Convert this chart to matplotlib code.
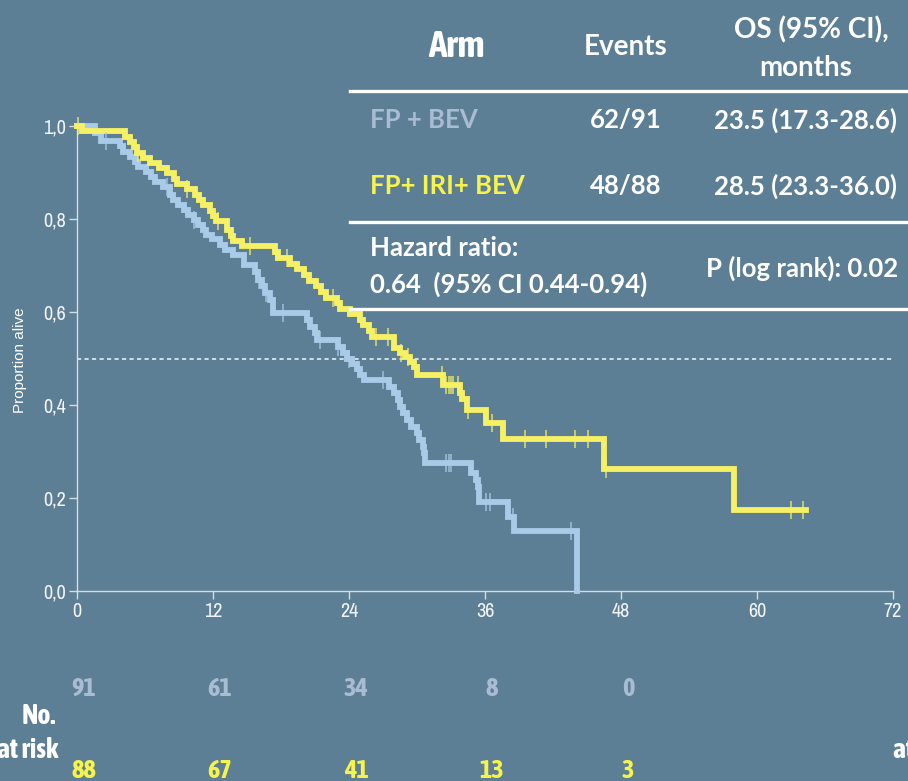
import matplotlib.pyplot as plt
import numpy as np
from matplotlib.lines import Line2D

# survival steps: time (months) of each drop and the level after it
bev_t = [0, 1.6, 2.1, 3.8, 4.1, 4.7, 5.1, 5.4, 6.1, 6.5, 6.9, 7.6, 8.2, 8.5, 8.9,
         9.4, 9.8, 10.3, 10.7, 11.1, 11.4, 11.9, 12.6, 13.1, 13.8, 14.7, 15.7,
         16.0, 16.3, 16.6, 17.0, 17.3, 20.3, 20.6, 21.0, 21.2, 23.0, 23.5, 23.8,
         24.3, 24.7, 25.0, 25.3, 27.5, 28.0, 28.3, 28.5, 28.8, 29.1, 29.5, 30.0,
         30.2, 30.5, 30.6, 30.7, 34.8, 35.2, 35.4, 35.5, 38.0, 38.6, 44.1]
bev_s = [1.0, 0.985, 0.967, 0.956, 0.945, 0.934, 0.923, 0.912, 0.901, 0.890,
         0.879, 0.868, 0.852, 0.841, 0.830, 0.820, 0.809, 0.798, 0.787, 0.776,
         0.765, 0.757, 0.745, 0.734, 0.723, 0.701, 0.687, 0.669, 0.655, 0.640,
         0.626, 0.597, 0.583, 0.568, 0.554, 0.540, 0.525, 0.511, 0.500, 0.489,
         0.478, 0.465, 0.454, 0.439, 0.425, 0.411, 0.396, 0.382, 0.368, 0.353,
         0.339, 0.325, 0.310, 0.296, 0.275, 0.253, 0.239, 0.224, 0.192, 0.160,
         0.128, 0.0]
bev_cens = [2.6, 7.9, 10.3, 16.1, 16.7, 18.2, 21.4, 23.0, 24.0, 27.0, 32.6,
            32.8, 33.0, 36.1, 36.4, 38.5, 43.6]

iri_t = [0, 0.4, 4.2, 4.7, 5.0, 5.3, 5.8, 6.4, 7.2, 7.9, 8.6, 8.8, 9.7, 10.4,
         10.8, 11.1, 11.7, 12.0, 12.3, 13.2, 13.6, 13.8, 14.6, 17.5, 17.7, 18.8,
         19.4, 20.0, 20.5, 21.1, 21.5, 22.0, 22.9, 23.2, 24.1, 25.0, 25.2, 25.8,
         26.0, 28.0, 28.5, 28.9, 29.4, 29.7, 30.0, 32.3, 33.8, 34.0, 34.4, 36.1,
         37.6, 46.5, 58.0, 64.3]
iri_s = [1.0, 0.989, 0.977, 0.966, 0.955, 0.943, 0.932, 0.920, 0.909, 0.898,
         0.886, 0.875, 0.864, 0.852, 0.841, 0.830, 0.818, 0.807, 0.795, 0.776,
         0.764, 0.752, 0.741, 0.728, 0.716, 0.704, 0.692, 0.679, 0.667, 0.655,
         0.643, 0.631, 0.619, 0.607, 0.595, 0.583, 0.571, 0.559, 0.546, 0.522,
         0.511, 0.504, 0.493, 0.482, 0.465, 0.443, 0.425, 0.413, 0.389, 0.361,
         0.326, 0.262, 0.175, 0.175]
iri_cens = [0.1, 5.4, 9.7, 12.4, 15.3, 17.6, 18.5, 22.6, 26.4, 27.4, 28.6,
            29.2, 32.2, 32.6, 32.8, 33.0, 33.2, 33.6, 34.5, 36.6, 39.5, 41.4,
            43.9, 45.1, 46.7, 63.0, 64.1]

risk_times = [0, 12, 24, 36, 48]
bev_risk = ["91", "61", "34", "8", "0"]
iri_risk = ["88", "67", "41", "13", "3"]

BG = "#5d7f95"
BLUE = "#a9cbe8"
YELLOW = "#f6f064"
BLUE_TXT = "#a8bcd2"
YELLOW_TXT = "#f7f34a"
NARROW = ["Archivo Narrow", "DejaVu Sans"]
COND = ["Asap Condensed", "DejaVu Sans"]
BODY = ["Lato", "DejaVu Sans"]

W, H = 908, 781
fig = plt.figure(figsize=(W / 100, H / 100), dpi=100, facecolor=BG)
ax = fig.add_axes([77 / W, 1 - 591 / H, 816 / W, 465 / H], facecolor=BG)


def fx(x):
    return x / W


def fy(y):
    return 1 - y / H


def step_level(ts, ss, t):
    i = np.searchsorted(ts, t, side="right") - 1
    return ss[i]


for ts, ss, cens, col in [(bev_t, bev_s, bev_cens, BLUE),
                          (iri_t, iri_s, iri_cens, YELLOW)]:
    ax.step(ts, ss, where="post", color=col, lw=4.2, clip_on=False,
            solid_joinstyle="miter", zorder=3)
    cy = [step_level(np.array(ts), np.array(ss), c) for c in cens]
    ax.plot(cens, cy, ls="none", marker="|", ms=13, mew=1.1, color=col,
            alpha=0.85, clip_on=False, zorder=4)

ax.axhline(0.5, color="white", lw=1.2, ls=(0, (2.5, 2)), alpha=0.85, zorder=2)

ax.set_xlim(0, 72)
ax.set_ylim(0, 1.0)
ax.set_xticks(np.arange(0, 73, 12))
ax.set_yticks(np.arange(0, 1.01, 0.2))
ax.set_yticklabels([f"{v:.1f}".replace(".", ",") for v in np.arange(0, 1.01, 0.2)])
for s in ["top", "right"]:
    ax.spines[s].set_visible(False)
for s in ["left", "bottom"]:
    ax.spines[s].set_color("#d5dde3")
    ax.spines[s].set_linewidth(1.0)
ax.tick_params(colors="#d5dde3", length=6, width=1.0, pad=2)
for lab in ax.get_xticklabels() + ax.get_yticklabels():
    lab.set_family(NARROW)
    lab.set_fontsize(14.5)
    lab.set_color("#f2f4f6")

fig.text(fx(20), fy(360), "Proportion alive", rotation=90, ha="center",
         va="center", fontsize=11, color="white", family=["Liberation Sans", "DejaVu Sans"])

# summary table
for y in [91, 222, 309]:
    fig.add_artist(Line2D([fx(350), fx(908)], [fy(y), fy(y)], color="white",
                          lw=2.4, transform=fig.transFigure))

hdr = dict(color="white", fontweight="bold", ha="center", va="center")
fig.text(fx(456), fy(47), "Arm", fontsize=27, family=COND, **hdr)
fig.text(fx(626), fy(47), "Events", fontsize=20, family=BODY, **hdr)
fig.text(fx(811), fy(30), "OS (95% CI),", fontsize=20, family=BODY, **hdr)
fig.text(fx(806), fy(68), "months", fontsize=20, family=BODY, **hdr)

cell = dict(fontsize=18.5, fontweight="bold", va="center", family=BODY)
fig.text(fx(370), fy(120), "FP + BEV", color=BLUE_TXT, ha="left", **cell)
fig.text(fx(626), fy(120), "62/91", color="white", ha="center", **cell)
fig.text(fx(806), fy(120), "23.5 (17.3-28.6)", color="white", ha="center", **cell)
fig.text(fx(370), fy(186), "FP+ IRI+ BEV", color=YELLOW_TXT, ha="left", **cell)
fig.text(fx(626), fy(186), "48/88", color="white", ha="center", **cell)
fig.text(fx(806), fy(186), "28.5 (23.3-36.0)", color="white", ha="center", **cell)
fig.text(fx(370), fy(248), "Hazard ratio:", color="white", ha="left", **cell)
fig.text(fx(370), fy(284), "0.64  (95% CI 0.44-0.94)", color="white", ha="left", **cell)
fig.text(fx(802), fy(268), "P (log rank): 0.02", color="white", ha="center", **cell)

# numbers at risk
risk = dict(fontsize=19, fontweight="bold", ha="center", va="center", family=COND)
for t, a, b in zip(risk_times, bev_risk, iri_risk):
    xd = ax.transData.transform((t, 0))[0] + 7
    xf = fig.transFigure.inverted().transform((xd, 0))[0]
    fig.text(xf, fy(688), a, color=BLUE_TXT, **risk)
    fig.text(xf, fy(770), b, color=YELLOW_TXT, **risk)

lab = dict(fontsize=20, fontweight="bold", color="white", va="center", family=COND)
fig.text(fx(56), fy(716), "No.", ha="right", **lab)
fig.text(fx(58), fy(750), "at risk", ha="right", **lab)
fig.text(fx(893), fy(750), "at risk", ha="left", **lab)

fig.savefig("out.png", dpi=100, facecolor=BG)
